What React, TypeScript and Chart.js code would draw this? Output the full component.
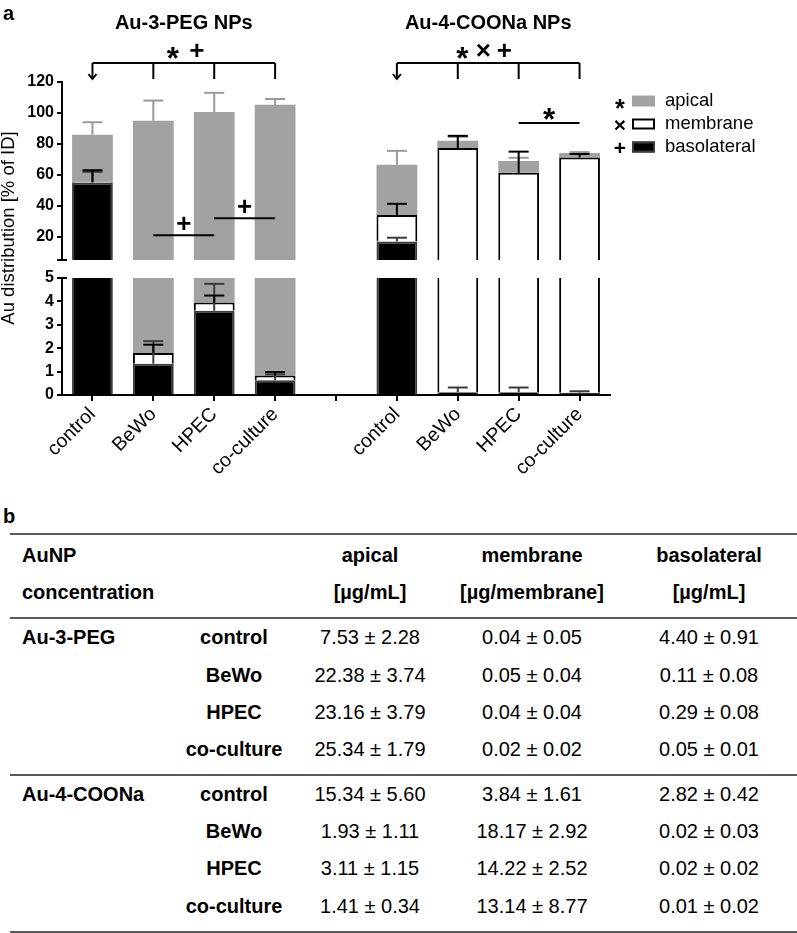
import React, { useEffect, useRef } from 'react';
import { Chart, registerables } from 'chart.js';

Chart.register(...registerables);

const FONT = "'Liberation Sans', Arial, Helvetica, sans-serif";

// ---------- panel a data ----------
const categories = ['control', 'BeWo', 'HPEC', 'co-culture', '', 'control', 'BeWo', 'HPEC', 'co-culture'];
const basolateral = [55, 1.34, 3.6, 0.63, null, 17, 0.12, 0.12, 0.1];
const membrane = [0.5, 0.46, 0.35, 0.2, null, 17, 77.2, 61.2, 71.2];
const apical = [30.5, 93.2, 96.65, 104.4, null, 32.5, 4.7, 7.7, 2.9];
const basolateralErr = [7, 0.96, 1.15, 0.25, null, 2.4, 0.2, 0.2, 0.06];
const membraneErr = [7.5, 0.35, 0.3, 0.15, null, 7.3, 7.9, 13.7, 2.2];
const apicalErr = [8, 13, 12.4, 3.8, null, 9, 2.5, 2, 0.5];
const upperTicks = [5, 20, 40, 60, 80, 100, 120];
const lowerTicks = [0, 1, 2, 3, 4, 5];
const groupTitles = ['Au-3-PEG NPs', 'Au-4-COONa NPs'];
const groupRanges = [[0, 3], [5, 8]];
const groupMarks = [['*', '+'], ['*', '×', '+']];
const innerSig = [
  { from: 1, to: 2, value: 21, mark: '+' },
  { from: 2, to: 3, value: 32, mark: '+' },
  { from: 7, to: 8, value: 93.5, mark: '*' },
];
const legendLabels = ['apical', 'membrane', 'basolateral'];
const legendMarks = ['*', '×', '+'];

// ---------- panel b data ----------
const headerRow1 = ['AuNP', 'apical', 'membrane', 'basolateral'];
const headerRow2 = ['concentration', '[µg/mL]', '[µg/membrane]', '[µg/mL]'];
const tableGroups = ['Au-3-PEG', 'Au-4-COONa'];
const tableConditions = ['control', 'BeWo', 'HPEC', 'co-culture'];
const apicalConc = [
  ['7.53 ± 2.28', '22.38 ± 3.74', '23.16 ± 3.79', '25.34 ± 1.79'],
  ['15.34 ± 5.60', '1.93 ± 1.11', '3.11 ± 1.15', '1.41 ± 0.34'],
];
const membraneConc = [
  ['0.04 ± 0.05', '0.05 ± 0.04', '0.04 ± 0.04', '0.02 ± 0.02'],
  ['3.84 ± 1.61', '18.17 ± 2.92', '14.22 ± 2.52', '13.14 ± 8.77'],
];
const basolateralConc = [
  ['4.40 ± 0.91', '0.11 ± 0.08', '0.29 ± 0.08', '0.05 ± 0.01'],
  ['2.82 ± 0.42', '0.02 ± 0.03', '0.02 ± 0.02', '0.01 ± 0.02'],
];

// ---------- styles ----------
const GRAY = '#a2a2a2';
const GRAY_ERR = '#9a9a9a';
const DARK = '#3c3c3c';

function drawMark(ctx: CanvasRenderingContext2D, ch: string, x: number, y: number, size: number) {
  const s = ch === '*' ? size * 1.2 : size;
  ctx.font = `bold ${s}px ${FONT}`;
  ctx.textAlign = 'center';
  ctx.textBaseline = 'alphabetic';
  const off = ch === '*' ? 0.6 : 0.34;
  ctx.fillText(ch, x, y + off * s);
}

function line(ctx: CanvasRenderingContext2D, x1: number, y1: number, x2: number, y2: number) {
  ctx.beginPath();
  ctx.moveTo(x1, y1);
  ctx.lineTo(x2, y2);
  ctx.stroke();
}

const clipPlugin = {
  id: 'panelClip',
  beforeDatasetDraw(chart: any, args: any) {
    const ys = args.meta.yScale;
    const ctx = chart.ctx;
    ctx.save();
    ctx.beginPath();
    ctx.rect(chart.chartArea.left, ys.top, chart.chartArea.right - chart.chartArea.left, ys.bottom - ys.top);
    ctx.clip();
  },
  afterDatasetDraw(chart: any) {
    chart.ctx.restore();
  },
};

const errorBarPlugin = {
  id: 'errorBars',
  afterDatasetsDraw(chart: any) {
    const ctx = chart.ctx as CanvasRenderingContext2D;
    const xs = chart.scales.x;
    const cap = 10;
    for (const id of ['yTop', 'yBot']) {
      const ys = chart.scales[id];
      ctx.save();
      ctx.beginPath();
      ctx.rect(chart.chartArea.left, ys.top, chart.chartArea.right - chart.chartArea.left, ys.bottom - ys.top);
      ctx.clip();
      ctx.lineWidth = 2;
      for (let i = 0; i < categories.length; i++) {
        if (basolateral[i] == null) continue;
        const b = basolateral[i] as number;
        const m = b + (membrane[i] as number);
        const a = m + (apical[i] as number);
        const x = xs.getPixelForValue(i);
        const items = [
          { top: a, err: apicalErr[i] as number, color: GRAY_ERR },
          { top: b, err: basolateralErr[i] as number, color: DARK },
          { top: m, err: membraneErr[i] as number, color: '#000' },
        ];
        for (const it of items) {
          const end = it.top + it.err;
          if (end <= ys.min) continue;
          const y0 = ys.getPixelForValue(Math.max(it.top, ys.min));
          const y1 = ys.getPixelForValue(end);
          ctx.strokeStyle = it.color;
          line(ctx, x, y0, x, y1);
          if (end <= ys.max) line(ctx, x - cap, y1, x + cap, y1);
        }
      }
      ctx.restore();
    }
  },
};

const annotationPlugin = {
  id: 'annotations',
  afterDraw(chart: any) {
    const ctx = chart.ctx as CanvasRenderingContext2D;
    const xs = chart.scales.x;
    const yT = chart.scales.yTop;
    const yB = chart.scales.yBot;
    ctx.save();
    ctx.fillStyle = '#000';
    ctx.strokeStyle = '#000';
    ctx.lineWidth = 2;

    // axis break marks
    const ax = yT.right;
    line(ctx, ax - 5, yT.bottom, ax + 5, yT.bottom);
    line(ctx, ax - 5, yB.top, ax + 5, yB.top);

    // panel letter
    ctx.font = `bold 20px ${FONT}`;
    ctx.textAlign = 'left';
    ctx.textBaseline = 'alphabetic';
    ctx.fillText('a', 3, 20);

    // y title
    ctx.save();
    ctx.translate(9, 228);
    ctx.rotate(-Math.PI / 2);
    ctx.font = `18.5px ${FONT}`;
    ctx.textAlign = 'center';
    ctx.textBaseline = 'middle';
    ctx.fillText('Au distribution [% of ID]', 0, 0);
    ctx.restore();

    // group titles, brackets, marks
    const markOffsets = [[-11, 13], [-26, -5, 16]];
    groupRanges.forEach((r, g) => {
      const x0 = xs.getPixelForValue(r[0]);
      const x1 = xs.getPixelForValue(r[1]);
      const cx = (x0 + x1) / 2;
      ctx.font = `bold 20px ${FONT}`;
      ctx.textAlign = 'center';
      ctx.textBaseline = 'middle';
      ctx.fillText(groupTitles[g], cx, 23);
      groupMarks[g].forEach((mk, k) => drawMark(ctx, mk, cx + markOffsets[g][k], 50, 26));
      const by = 63;
      const bb = 79;
      line(ctx, x0, by, x1, by);
      for (let i = r[0] + 1; i <= r[1]; i++) {
        const xi = xs.getPixelForValue(i);
        line(ctx, xi, by, xi, bb);
      }
      line(ctx, x0, by, x0, bb);
      ctx.beginPath();
      ctx.moveTo(x0 - 4, bb - 5);
      ctx.lineTo(x0, bb);
      ctx.lineTo(x0 + 4, bb - 5);
      ctx.stroke();
    });

    // inner significance lines
    innerSig.forEach((s) => {
      const xa = xs.getPixelForValue(s.from);
      const xb = xs.getPixelForValue(s.to);
      const y = yT.getPixelForValue(s.value);
      line(ctx, xa, y, xb, y);
      drawMark(ctx, s.mark, (xa + xb) / 2, y - 12, 26);
    });

    // legend
    const rows = [101, 124, 147];
    legendLabels.forEach((lab, k) => {
      const y = rows[k];
      ctx.fillStyle = '#000';
      drawMark(ctx, legendMarks[k], 620, y + 1, 21);
      if (k === 0) {
        ctx.fillStyle = GRAY;
        ctx.fillRect(632, y - 5.5, 23, 11);
      } else if (k === 1) {
        ctx.fillStyle = '#fff';
        ctx.fillRect(632, y - 5.5, 23, 11);
        ctx.strokeStyle = '#000';
        ctx.strokeRect(633, y - 4.5, 21, 9);
      } else {
        ctx.fillStyle = '#000';
        ctx.fillRect(632, y - 5.5, 23, 11);
        ctx.strokeStyle = DARK;
        ctx.strokeRect(633, y - 4.5, 21, 9);
      }
      ctx.fillStyle = '#000';
      ctx.font = `18.5px ${FONT}`;
      ctx.textAlign = 'left';
      ctx.textBaseline = 'middle';
      ctx.fillText(lab, 665, y);
    });
    ctx.restore();
  },
};

function BarChart() {
  const ref = useRef<HTMLCanvasElement | null>(null);
  useEffect(() => {
    if (!ref.current) return;
    Chart.defaults.font.family = FONT;
    Chart.defaults.color = '#000';
    const mk = (label: string, data: any[], axis: string, bg: string, border: string, bw: number) => ({
      label,
      data,
      yAxisID: axis,
      xAxisID: 'x',
      backgroundColor: bg,
      borderColor: border,
      borderWidth: bw,
      borderSkipped: 'start',
      categoryPercentage: 1,
      barPercentage: 0.67,
      clip: 0,
    });
    const datasets: any[] = [];
    for (const axis of ['yTop', 'yBot']) {
      datasets.push(mk('basolateral', basolateral, axis, '#000', DARK, 2));
      datasets.push(mk('membrane', membrane, axis, '#fff', '#000', 2));
      datasets.push(mk('apical', apical, axis, GRAY, GRAY, 0));
    }
    const yCommon = (min: number, max: number, ticks: number[], hideTop: boolean) => ({
      type: 'linear',
      position: 'left',
      stack: 'v',
      stacked: true,
      min,
      max,
      afterBuildTicks: (s: any) => {
        s.ticks = ticks.map((v) => ({ value: v }));
      },
      afterFit: (s: any) => {
        s.width = 40;
      },
      ticks: {
        autoSkip: false,
        callback: (v: any) => (hideTop && v === 5 ? '' : String(v)),
        font: { size: 16, weight: 'bold' },
        color: '#000',
        padding: 3,
      },
      grid: { display: true, drawOnChartArea: false, drawTicks: true, tickLength: 5, color: '#000', lineWidth: 2 },
      border: { display: true, color: '#000', width: 2 },
    });
    const chart = new Chart(ref.current, {
      type: 'bar',
      data: { labels: categories, datasets },
      plugins: [clipPlugin, errorBarPlugin, annotationPlugin],
      options: {
        animation: false,
        responsive: false,
        devicePixelRatio: 1,
        layout: { padding: { left: 22, right: 187, top: 82, bottom: 0 } },
        plugins: { legend: { display: false }, tooltip: { enabled: false }, title: { display: false } },
        scales: {
          x: {
            type: 'category',
            stacked: true,
            offset: true,
            afterFit: (s: any) => {
              s.height = 95;
            },
            grid: { display: true, drawOnChartArea: false, drawTicks: true, tickLength: 6, color: '#000', lineWidth: 2, offset: false },
            border: { display: true, color: '#000', width: 2 },
            ticks: { autoSkip: false, maxRotation: 45, minRotation: 45, color: '#000', font: { size: 19.5 }, padding: 2 },
          },
          yTop: { ...yCommon(5, 120, upperTicks, true), stackWeight: 178, weight: 3 },
          yGap: {
            type: 'linear',
            position: 'left',
            stack: 'v',
            stackWeight: 18,
            weight: 2,
            min: 0,
            max: 1,
            display: true,
            afterFit: (s: any) => {
              s.width = 40;
            },
            ticks: { display: false },
            grid: { display: false },
            border: { display: false },
          },
          yBot: { ...yCommon(0, 5, lowerTicks, false), stackWeight: 117, weight: 1 },
        },
      } as any,
    } as any);
    return () => chart.destroy();
  }, []);
  return <canvas ref={ref} width={797} height={490} style={{ position: 'absolute', left: 0, top: 0, width: 797, height: 490 }} />;
}

const textBase: React.CSSProperties = {
  position: 'absolute',
  fontFamily: FONT,
  fontSize: 20,
  lineHeight: '20px',
  whiteSpace: 'nowrap',
  color: '#000',
};

function Cell({ x, y, text, bold, align }: { x: number; y: number; text: string; bold?: boolean; align?: 'left' | 'center' }) {
  return (
    <div
      style={{
        ...textBase,
        left: x,
        top: y,
        fontWeight: bold ? 'bold' : 'normal',
        transform: align === 'left' ? 'translate(0,-50%)' : 'translate(-50%,-50%)',
      }}
    >
      {text}
    </div>
  );
}

function Rule({ y }: { y: number }) {
  return <div style={{ position: 'absolute', left: 10, width: 787, top: y - 1, height: 2, background: '#5a5a5a' }} />;
}

function Table() {
  const colX = [22, 370, 532, 709];
  const condX = 234;
  const headerY = [555, 592];
  const rowY = [
    [637, 675, 712, 749],
    [794, 831, 868, 906],
  ];
  const rules = [534, 618, 775, 932];
  const valueCols = [apicalConc, membraneConc, basolateralConc];
  const cells: any[] = [];
  headerRow1.forEach((t, k) => cells.push(<Cell key={'h1' + k} x={colX[k]} y={headerY[0]} text={t} bold align={k === 0 ? 'left' : 'center'} />));
  headerRow2.forEach((t, k) => cells.push(<Cell key={'h2' + k} x={colX[k]} y={headerY[1]} text={t} bold align={k === 0 ? 'left' : 'center'} />));
  tableGroups.forEach((g, gi) => {
    cells.push(<Cell key={'g' + gi} x={colX[0]} y={rowY[gi][0]} text={g} bold align="left" />);
    tableConditions.forEach((c, ci) => {
      cells.push(<Cell key={`c${gi}${ci}`} x={condX} y={rowY[gi][ci]} text={c} bold />);
      valueCols.forEach((col, vi) => {
        cells.push(<Cell key={`v${gi}${ci}${vi}`} x={colX[vi + 1]} y={rowY[gi][ci]} text={col[gi][ci]} />);
      });
    });
  });
  return (
    <>
      <div style={{ ...textBase, left: 3, top: 506, fontWeight: 'bold' }}>b</div>
      {rules.map((y, i) => (
        <Rule key={'r' + i} y={y} />
      ))}
      {cells}
    </>
  );
}

export default function App() {
  return (
    <div style={{ position: 'absolute', left: 0, top: 0, width: 797, height: 933, background: '#fff', overflow: 'hidden' }}>
      <BarChart />
      <Table />
    </div>
  );
}
